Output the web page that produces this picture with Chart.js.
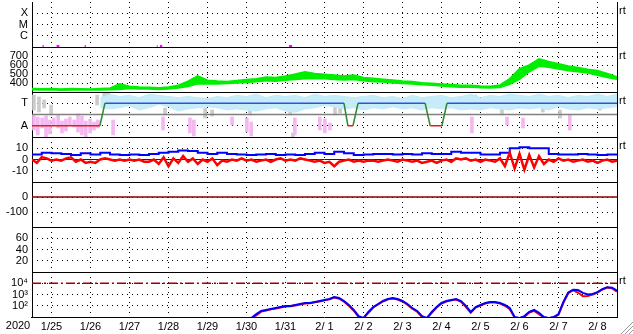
<!DOCTYPE html>
<html>
<head>
<meta charset="utf-8">
<script src="https://cdn.jsdelivr.net/npm/chart.js@4.4.0/dist/chart.umd.min.js"></script>
<style>
  html, body { margin: 0; padding: 0; background: #fff; }
  canvas { display: block; }
</style>
</head>
<body>
<canvas id="chart" width="633" height="334"></canvas>
<script>
// -- x axis: days since 1/25 00:00 --
const YEAR_LABEL = '2020';
const DAY_TICKS = [0, 1, 2, 3, 4, 5, 6, 7, 8, 9, 10, 11, 12, 13, 14, 15];
const DAY_LABELS = ['1/25', '1/26', '1/27', '1/28', '1/29', '1/30', '1/31',
    '2/ 1', '2/ 2', '2/ 3', '2/ 4', '2/ 5', '2/ 6', '2/ 7', '2/ 8'];

// -- panel tick values / labels --
const XRAY_TICKS = [1e-4, 1e-5, 1e-6];
const XRAY_LABELS = ['X', 'M', 'C'];
const SPEED_TICKS = [700, 600, 500, 400];
const SECTOR_TICKS = [3, 1];
const SECTOR_LABELS = ['T', 'A'];
const BZ_TICKS = [10, 0, -10];
const DST_TICKS = [0, -100];
const KP_TICKS = [60, 40, 20];
const ELEC_TICKS = [1e4, 1e3, 1e2];
const ELEC_LABELS = ['10\u2074', '10\u00b3', '10\u00b2'];

// -- x-ray flux: short flagged segments near the floor --
const XRAY_START = [0.27, 0.63, 1.35, 3.20, 3.28, 6.59];
const XRAY_END = [0.30, 0.70, 1.38, 3.22, 3.34, 6.67];
const XRAY_LEVEL = 1.2e-7;

// -- solar wind speed envelope, every 6 h from 1/25 --
const SPEED_STEP = 0.25;
const SPEED_HI = [338, 336, 340, 332, 338, 336, 334, 340, 345, 390,
    365, 355, 352, 346, 355, 375, 420, 480, 430, 422,
    418, 428, 438, 448, 468, 462, 478, 500, 525, 505,
    498, 488, 478, 488, 462, 452, 442, 432, 422, 416,
    402, 396, 390, 382, 376, 376, 368, 364, 378, 450,
    560, 600, 670, 640, 615, 588, 572, 552, 538, 505, 468];
const SPEED_LO = [324, 322, 324, 320, 322, 324, 322, 322, 324, 328,
    338, 334, 332, 328, 334, 345, 360, 390, 390, 390,
    395, 400, 405, 415, 425, 420, 430, 438, 448, 450,
    446, 438, 432, 438, 425, 415, 410, 400, 395, 390,
    380, 375, 366, 358, 354, 355, 348, 345, 350, 385,
    440, 525, 585, 575, 555, 535, 525, 510, 485, 462, 442];

// -- sector polarity (A = 1, T = 3) --
const SECTOR_T = [0, 1.74, 1.87, 8.0, 8.10, 8.23, 8.36, 10.08, 10.21, 10.51, 10.64, 15];
const SECTOR_V = [1, 1, 3, 3, 1, 1, 3, 3, 1, 1, 3, 3];
const MID_T = [0, 15];
const MID_V = [2, 2];

// -- field angle band (light blue), every 6 h from 1/26 18:00 --
const TILT_START = 1.75;
const TILT_HI = [3.5, 3.8, 3.6, 3.7, 3.5, 3.8, 3.7, 3.6, 3.5, 3.6,
    3.5, 3.4, 3.6, 3.5, 3.7, 3.6, 3.8, 3.5, 3.7, 3.6,
    3.7, 3.5, 3.8, 3.6, 3.7, 3.6, 3.5, 3.6, 3.7, 3.5,
    3.6, 3.4, 3.7, 3.5, 3.6, 3.7, 3.5, 3.6, 3.8, 3.5,
    3.7, 3.6, 3.8, 3.7, 3.6, 3.8, 3.6, 3.7, 3.5, 3.7,
    3.6, 3.8, 3.6, 3.8];
const TILT_LO = [2.6, 2.5, 2.6, 2.8, 2.4, 2.6, 2.9, 2.7, 2.3, 2.5,
    2.6, 2.7, 2.6, 2.4, 2.5, 2.4, 2.3, 2.5, 2.6, 2.3,
    2.2, 2.5, 2.6, 2.8, 2.7, 2.5, 2.6, 2.4, 2.6, 2.5,
    2.7, 2.5, 2.6, 2.4, 2.6, 2.5, 2.6, 2.4, 2.5, 2.4,
    2.6, 2.5, 2.4, 2.6, 2.5, 2.6, 2.4, 2.7, 2.5, 2.4,
    2.6, 2.5, 2.6, 2.7];

// -- scattered away (pink) and unsure (gray) streaks --
const PINK_T = [0.05, 0.15, 0.26, 0.36, 0.46, 0.56, 0.67, 0.77, 0.87, 0.97, 1.08, 1.18, 1.28,
    1.38, 1.49, 1.59, 1.69, 2.08, 3.36, 4.05, 4.15, 5.13, 5.51, 5.62, 6.74, 7.38, 7.51, 7.64,
    11.28, 12.18, 12.59, 13.79];
const PINK_LO = [0.62, 0.18, 0.8, 0.0, 0.27, 0.98, 0.8, 0.36, 0.53, 1.07, 0.89, 0.44, 0.18,
    0.0, 0.36, 0.62, 0.8, 0.18, 0.62, 0.36, 0.09, 1.07, 0.44, 0.09, 0.18, 0.62, 0.36, 0.62,
    0.36, 1.07, 0.8, 0.62];
const PINK_HI = [1.96, 1.78, 1.69, 1.87, 1.51, 1.69, 1.96, 1.42, 1.6, 1.78, 1.51, 2.04, 1.87,
    1.42, 1.6, 1.33, 1.51, 1.51, 1.78, 1.69, 1.51, 1.78, 1.69, 1.33, 1.69, 1.78, 1.6, 1.24,
    1.78, 1.78, 1.69, 1.96];
const GRAY_T = [0.05, 0.18, 0.31, 0.49, 1.67, 1.85, 1.95, 3.41, 4.44, 4.62, 5.59, 6.62, 6.69,
    7.77, 7.9, 11.36, 12.05, 13.1, 13.54, 14.56];
const GRAY_LO = [2.4, 2.22, 2.58, 1.96, 2.84, 3.29, 3.47, 1.96, 1.69, 1.87, 1.96, 1.96, 0.0,
    1.96, 2.13, 3.29, 1.96, 2.22, 1.69, 2.4];
const GRAY_HI = [3.73, 3.56, 3.29, 2.84, 3.73, 3.91, 4.0, 2.58, 2.58, 2.4, 2.4, 2.58, 0.36,
    2.84, 2.58, 3.73, 2.84, 3.29, 2.4, 3.29];

// -- IMF Bt (every 6 h) and Bz (every 3 h), nT --
const BT_STEP = 0.25;
const BT = [4.5, 6, 5.5, 5, 4, 5.5, 4.5, 6, 4.5, 4,
    4.5, 4, 5, 6, 7, 8, 7.5, 6, 5, 6,
    5, 4.5, 4, 4.5, 5, 4, 4.5, 4, 5, 6,
    5, 7, 5.5, 4, 4.5, 5, 5, 4.5, 5, 4.5,
    5.5, 5, 5, 7, 6, 6, 4.5, 4.5, 6, 10,
    11, 10, 10, 5, 4.5, 4.5, 5, 4.5, 4, 4.5, 4];
const BZ_STEP = 0.125;
const BZ = [0, -3, 2, 1, -1, 0, -1, 1, 2, -2,
    0, -3, -2, -3, 0, 1, 0, -1, 0, -1,
    0, -1, 0, -2, -2, 0, -4, 2, -6, 1,
    -3, 3, -2, 1, -4, 0, -2, 1, -5, -1,
    -2, 0, -1, 1, -1, 0, -2, -1, 0, -2,
    0, 1, -1, 0, -1, 1, 0, -1, -2, -1,
    -3, -2, -6, -2, -1, 0, -2, -1, -2, -1,
    -1, -2, -1, 0, -1, -2, 0, -1, -2, -1,
    -3, -2, -1, -3, -1, 0, -2, 1, 0, 1,
    -1, 0, -2, 0, -1, -2, 1, -6, 6, -8,
    5, -9, 4, -7, 3, -4, 0, -2, 1, -1,
    0, -2, -1, 0, -2, -1, -3, -1, 0, -2, -1];

// -- reference lines --
const REF_T = [0, 15];
const BZ_ZERO = [0, 0];
const DST_ZERO = [0, 0];
const ELEC_ALERT = [1e4, 1e4];

// -- electron flux, every 3 h from 1/30 15:00 --
const ELEC_START = 5.625;
const ELEC_STEP = 0.125;
const ELEC_BLUE = [8, 18, 34, 42, 51, 63, 77, 95, 95, 117,
    143, 176, 176, 215, 264, 324, 398, 600, 489, 264,
    117, 42, 12, 8, 28, 77, 143, 264, 398, 489,
    398, 264, 143, 63, 34, 12, 8, 28, 77, 176,
    264, 324, 398, 264, 95, 28, 77, 117, 176, 215,
    215, 176, 117, 63, 10, 8, 12, 28, 42, 23,
    10, 8, 10, 18, 215, 1500, 2700, 2500, 1400, 1000,
    1100, 1600, 3000, 4500, 4000, 2200];
const ELEC_RED = [8, 14, 30, 38, 48, 58, 70, 85, 90, 105,
    130, 160, 165, 200, 240, 300, 370, 540, 420, 230,
    100, 36, 10, 8, 24, 70, 130, 240, 370, 450,
    360, 240, 125, 55, 30, 10, 8, 24, 70, 160,
    240, 300, 360, 220, 80, 24, 70, 105, 160, 200,
    195, 160, 100, 50, 9, 8, 10, 25, 35, 18,
    9, 8, 9, 16, 180, 1300, 2400, 1500, 700, 750,
    1000, 1500, 2800, 4200, 3500, 1800];

// ---------------------------------------------------------------

const GREEN = '#00ee00';
const FONT = '"Liberation Sans", Arial, sans-serif';

Chart.defaults.font.family = FONT;
Chart.defaults.font.size = 11;
Chart.defaults.color = '#000';

function series(start, step, values) {
    return values.map((v, i) => ({ x: start + i * step, y: v }));
}

function pairs(xs, ys) {
    return xs.map((x, i) => ({ x, y: ys[i] }));
}

function ranges(xs, lo, hi) {
    return xs.map((x, i) => ({ x, y: [lo[i], hi[i]] }));
}

function xraySegments() {
    const pts = [];
    XRAY_START.forEach((s, i) => {
        pts.push({ x: s, y: XRAY_LEVEL }, { x: XRAY_END[i], y: XRAY_LEVEL }, { x: XRAY_END[i], y: null });
    });
    return pts;
}

function panelAxis(min, max, tickValues, tickLabels, type) {
    return {
        type: type || 'linear',
        position: 'left',
        stack: 'panels',
        stackWeight: 1,
        min, max,
        afterBuildTicks: (scale) => { scale.ticks = tickValues.map(v => ({ value: v })); },
        afterFit: (scale) => {
            scale.width = 32;
            // labels never sit on a panel edge, so no room is needed for them
            scale.paddingTop = 0;
            scale.paddingBottom = 0;
        },
        grid: { color: '#000', lineWidth: 1, drawTicks: false },
        border: { display: true, color: '#000', width: 1, dash: [1, 4] },
        ticks: {
            padding: 4,
            autoSkip: false,
            callback: (v, i) => tickLabels ? tickLabels[i] : String(tickValues[i]),
        },
    };
}

const PANELS_TOP_DOWN = ['yXray', 'ySpeed', 'ySector', 'yBz', 'yDst', 'yKp', 'yElec'];
const RT_PANELS = ['yXray', 'ySpeed', 'ySector', 'yBz', 'yElec'];

// separators, right edge, "rt" marks, year label, corner grip
const frame = {
    id: 'frame',
    afterDraw(chart) {
        const { ctx, chartArea, scales } = chart;
        ctx.save();
        ctx.strokeStyle = '#000';
        ctx.lineWidth = 1;
        ctx.beginPath();
        PANELS_TOP_DOWN.slice(0, -1).forEach(id => {
            const y = Math.round(scales[id].bottom) + 0.5;
            ctx.moveTo(chartArea.left, y);
            ctx.lineTo(chartArea.right, y);
        });
        const xr = Math.round(chartArea.right) + 0.5;
        ctx.moveTo(xr, chartArea.top);
        ctx.lineTo(xr, chartArea.bottom);
        ctx.stroke();

        ctx.fillStyle = '#000';
        ctx.font = '11px ' + FONT;
        ctx.textBaseline = 'middle';
        ctx.textAlign = 'left';
        RT_PANELS.forEach(id => ctx.fillText('rt', chartArea.right + 2, scales[id].top + 9));

        ctx.textAlign = 'center';
        ctx.fillText(YEAR_LABEL, chartArea.left - 14, chartArea.bottom + 9);

        // resize grip
        ctx.strokeStyle = '#999';
        ctx.beginPath();
        const w = chart.width, h = chart.height;
        [4, 8, 12].forEach(d => { ctx.moveTo(w - d, h); ctx.lineTo(w, h - d); });
        ctx.stroke();
        ctx.restore();
    },
};

const sectorColor = (c) => {
    const a = c.p0.parsed.y, b = c.p1.parsed.y;
    if (a !== b) return '#2f8a2f';
    return a === 1 ? '#e02020' : '#3050e0';
};

new Chart(document.getElementById('chart'), {
    type: 'line',
    data: {
        datasets: [
            { data: xraySegments(), yAxisID: 'yXray', borderColor: '#ff00ff', borderWidth: 2, order: 0 },

            { data: series(0, SPEED_STEP, SPEED_HI), yAxisID: 'ySpeed', borderColor: GREEN,
              backgroundColor: GREEN, borderWidth: 1.5, fill: '+1', order: 1 },
            { data: series(0, SPEED_STEP, SPEED_LO), yAxisID: 'ySpeed', borderColor: GREEN,
              borderWidth: 1.5, fill: false, order: 1 },

            { data: pairs(SECTOR_T, SECTOR_V), yAxisID: 'ySector', borderWidth: 1.5,
              borderColor: '#3050e0', segment: { borderColor: sectorColor }, order: 0 },
            { data: pairs(MID_T, MID_V), yAxisID: 'ySector', borderColor: '#808080', borderWidth: 1.5, order: 1 },
            { data: series(TILT_START, 0.25, TILT_HI), yAxisID: 'ySector', borderColor: '#bfe9f9',
              backgroundColor: '#c6ecfa', borderWidth: 1, fill: '+1', order: 4 },
            { data: series(TILT_START, 0.25, TILT_LO), yAxisID: 'ySector', borderColor: '#bfe9f9',
              borderWidth: 1, fill: false, order: 4 },
            { type: 'bar', data: ranges(PINK_T, PINK_LO, PINK_HI), yAxisID: 'ySector',
              backgroundColor: '#f4b8f0', barThickness: 3, grouped: false, order: 5 },
            { type: 'bar', data: ranges(GRAY_T, GRAY_LO, GRAY_HI), yAxisID: 'ySector',
              backgroundColor: '#cccccc', barThickness: 3, grouped: false, order: 6 },

            { data: pairs(REF_T, BZ_ZERO), yAxisID: 'yBz', borderColor: '#700000', borderWidth: 1, order: 3 },
            { data: series(0, BT_STEP, BT), yAxisID: 'yBz', borderColor: '#0000ff', borderWidth: 2, stepped: true, order: 2 },
            { data: series(0, BZ_STEP, BZ), yAxisID: 'yBz', borderColor: '#ff0000', borderWidth: 2.5, order: 1 },

            { data: pairs(REF_T, DST_ZERO), yAxisID: 'yDst', borderColor: '#8b0000', borderWidth: 1.5, order: 1 },

            { data: pairs(REF_T, ELEC_ALERT), yAxisID: 'yElec', borderColor: '#a00000', borderWidth: 1.5,
              borderDash: [9, 3, 2, 3], order: 3 },
            { data: series(ELEC_START, ELEC_STEP, ELEC_RED), yAxisID: 'yElec', borderColor: '#ff0000', borderWidth: 2, order: 2 },
            { data: series(ELEC_START, ELEC_STEP, ELEC_BLUE), yAxisID: 'yElec', borderColor: '#0000ff', borderWidth: 2, order: 1 },
        ],
    },
    options: {
        responsive: false,
        animation: false,
        events: [],
        spanGaps: false,
        elements: { point: { radius: 0 }, line: { tension: 0 } },
        layout: { padding: { left: 0, right: 16, top: 2, bottom: 0 } },
        plugins: { legend: { display: false }, tooltip: { enabled: false } },
        scales: {
            x: {
                type: 'linear',
                min: 0, max: 15,
                offset: false,
                afterBuildTicks: (scale) => { scale.ticks = DAY_TICKS.map(v => ({ value: v })); },
                afterFit: (scale) => { scale.height = 17; },
                grid: { color: '#000', lineWidth: 1, drawTicks: false },
                border: { display: true, color: '#000', width: 1, dash: [1, 4] },
                ticks: {
                    autoSkip: false,
                    maxRotation: 0,
                    padding: 3,
                    labelOffset: 19.5,
                    callback: (v, i) => DAY_LABELS[i] || '',
                },
            },
            // stacked left axes: last defined is placed on top
            yElec: panelAxis(10, 1e5, ELEC_TICKS, ELEC_LABELS, 'logarithmic'),
            yKp: panelAxis(0, 80, KP_TICKS),
            yDst: panelAxis(-200, 100, DST_TICKS),
            yBz: panelAxis(-20, 20, BZ_TICKS),
            ySector: panelAxis(0, 4, SECTOR_TICKS, SECTOR_LABELS),
            ySpeed: panelAxis(300, 800, SPEED_TICKS),
            yXray: panelAxis(1e-7, 1e-3, XRAY_TICKS, XRAY_LABELS, 'logarithmic'),
        },
    },
    plugins: [frame],
});
</script>
</body>
</html>
